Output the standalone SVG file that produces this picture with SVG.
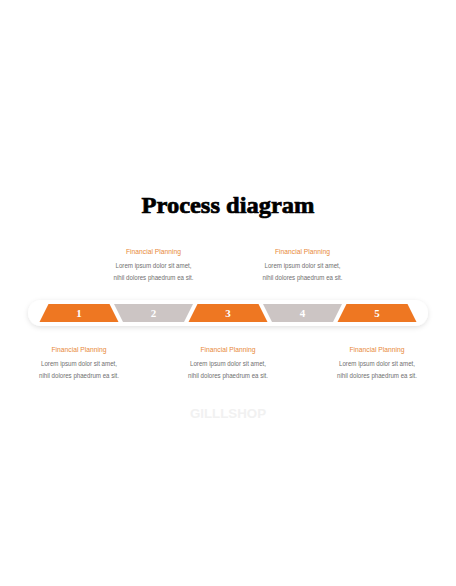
<svg xmlns="http://www.w3.org/2000/svg" width="456" height="586" viewBox="0 0 456 586">
<defs>
<style>
.title{font-family:"Liberation Serif","DejaVu Serif",serif;font-weight:bold;font-size:24px;fill:#000;stroke:#000;stroke-width:0.7px;text-anchor:middle}
.num{font-family:"Liberation Serif","DejaVu Serif",serif;font-weight:bold;font-size:11px;fill:#fff;text-anchor:middle}
.head{font-family:"Liberation Sans",Arial,sans-serif;font-size:7px;fill:#E8893A;text-anchor:middle}
.body{font-family:"Liberation Sans",Arial,sans-serif;font-size:6.8px;fill:#707070;text-anchor:middle}
.wm{font-family:"Liberation Sans",Arial,sans-serif;font-weight:bold;font-size:13.3px;fill:#f1f1f1;text-anchor:middle}
.or{fill:#EE7722}
.gr{fill:#CCC5C4}
</style>
<filter id="sh" x="-10%" y="-50%" width="120%" height="200%">
<feDropShadow dx="0" dy="1.5" stdDeviation="2.5" flood-color="#000" flood-opacity="0.12"/>
</filter>
</defs>
<rect width="456" height="586" fill="#fff"/>
<text class="title" x="228" y="213" textLength="173" lengthAdjust="spacingAndGlyphs">Process diagram</text>
<g id="bar">
<rect x="28" y="300" width="400" height="26" rx="13" ry="13" fill="#fff" filter="url(#sh)"/>
</g>
<g id="step1">
<polygon class="or" points="48.5,304 109.5,304 118.5,322 39.5,322"/>
<text class="num" x="79" y="317">1</text>
</g>
<g id="step2">
<polygon class="gr" points="114,304 193,304 184,322 123,322"/>
<text class="num" x="153.5" y="317">2</text>
</g>
<g id="step3">
<polygon class="or" points="197.5,304 258.5,304 267.5,322 188.5,322"/>
<text class="num" x="228" y="317">3</text>
</g>
<g id="step4">
<polygon class="gr" points="263,304 342,304 333,322 272,322"/>
<text class="num" x="302.5" y="317">4</text>
</g>
<g id="step5">
<polygon class="or" points="346.5,304 407.5,304 416.5,322 337.5,322"/>
<text class="num" x="377" y="317">5</text>
</g>
<g id="label2">
<text class="head" x="153.5" y="253.5" textLength="55" lengthAdjust="spacingAndGlyphs">Financial Planning</text>
<text class="body" x="153.5" y="267.5" textLength="76" lengthAdjust="spacingAndGlyphs">Lorem ipsum dolor sit amet,</text>
<text class="body" x="153.5" y="279.5" textLength="80" lengthAdjust="spacingAndGlyphs">nihil dolores phaedrum ea sit.</text>
</g>
<g id="label4">
<text class="head" x="302.5" y="253.5" textLength="55" lengthAdjust="spacingAndGlyphs">Financial Planning</text>
<text class="body" x="302.5" y="267.5" textLength="76" lengthAdjust="spacingAndGlyphs">Lorem ipsum dolor sit amet,</text>
<text class="body" x="302.5" y="279.5" textLength="80" lengthAdjust="spacingAndGlyphs">nihil dolores phaedrum ea sit.</text>
</g>
<g id="label1">
<text class="head" x="79" y="351.5" textLength="55" lengthAdjust="spacingAndGlyphs">Financial Planning</text>
<text class="body" x="79" y="365.5" textLength="76" lengthAdjust="spacingAndGlyphs">Lorem ipsum dolor sit amet,</text>
<text class="body" x="79" y="377.5" textLength="80" lengthAdjust="spacingAndGlyphs">nihil dolores phaedrum ea sit.</text>
</g>
<g id="label3">
<text class="head" x="228" y="351.5" textLength="55" lengthAdjust="spacingAndGlyphs">Financial Planning</text>
<text class="body" x="228" y="365.5" textLength="76" lengthAdjust="spacingAndGlyphs">Lorem ipsum dolor sit amet,</text>
<text class="body" x="228" y="377.5" textLength="80" lengthAdjust="spacingAndGlyphs">nihil dolores phaedrum ea sit.</text>
</g>
<g id="label5">
<text class="head" x="377" y="351.5" textLength="55" lengthAdjust="spacingAndGlyphs">Financial Planning</text>
<text class="body" x="377" y="365.5" textLength="76" lengthAdjust="spacingAndGlyphs">Lorem ipsum dolor sit amet,</text>
<text class="body" x="377" y="377.5" textLength="80" lengthAdjust="spacingAndGlyphs">nihil dolores phaedrum ea sit.</text>
</g>
<g id="connectors"></g>
<text class="wm" x="228" y="417.5">GILLLSHOP</text>
</svg>
